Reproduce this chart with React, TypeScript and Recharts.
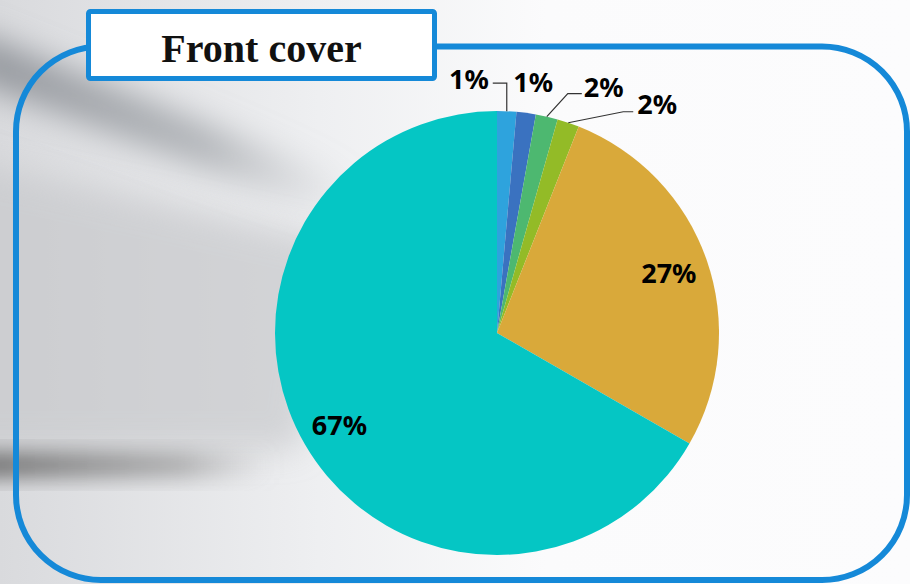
import React from 'react';
import { PieChart, Pie, Cell } from 'recharts';

const categories = ['Item 1', 'Item 2', 'Item 3', 'Item 4', 'Item 5', 'Item 6'];
const values = [1.4, 1.4, 1.6, 1.6, 27.3, 66.7];
const colors = ['#2ea3dd', '#3a72c0', '#4db870', '#93bb27', '#d9a93a', '#05c6c4'];

const data = categories.map((name, i) => ({ name, value: values[i] }));

const RADIAN = Math.PI / 180;
const labelFont = { fontFamily: '"Noto Sans", sans-serif', fontWeight: 700, fontSize: 27, fill: '#000' };

// leader line layout for the thin slices, relative to the point on the rim
const callouts: Record<number, { elbow?: [number, number]; end?: [number, number]; text: [number, number]; anchor: 'start' | 'middle' | 'end' }> = {
    0: { elbow: [0, -28], end: [-14, -28], text: [-18, -33], anchor: 'end' },
    1: { text: [7, -31], anchor: 'middle' },
    2: { elbow: [21, -23], end: [35, -23], text: [37, -30], anchor: 'start' },
    3: { elbow: [55, -11], end: [65, -11], text: [69, -19], anchor: 'start' },
};

const renderLabel = (props: any) => {
    const { cx, cy, midAngle, outerRadius, percent, index } = props;
    const text = `${Math.round(percent * 100)}%`;
    const cos = Math.cos(-midAngle * RADIAN);
    const sin = Math.sin(-midAngle * RADIAN);
    if (percent > 0.1) {
        const r = outerRadius * 0.82;
        return (
            <text x={cx + r * cos} y={cy + r * sin} textAnchor="middle" dominantBaseline="central" {...labelFont}>
                {text}
            </text>
        );
    }
    const ex = cx + outerRadius * cos;
    const ey = cy + outerRadius * sin;
    const c = callouts[index];
    return (
        <g>
            {c.elbow && c.end && (
                <polyline
                    points={`${ex},${ey} ${ex + c.elbow[0]},${ey + c.elbow[1]} ${ex + c.end[0]},${ey + c.end[1]}`}
                    fill="none"
                    stroke="#333"
                    strokeWidth={1.2}
                />
            )}
            <text x={ex + c.text[0]} y={ey + c.text[1]} textAnchor={c.anchor} dominantBaseline="central" {...labelFont}>
                {text}
            </text>
        </g>
    );
};

const Background = () => (
    <svg width={910} height={584} style={{ position: 'absolute', left: 0, top: 0 }}>
        <defs>
            <linearGradient id="base" x1="0" y1="0" x2="1" y2="0">
                <stop offset="0" stopColor="#d9dadd" />
                <stop offset="0.35" stopColor="#eeeff1" />
                <stop offset="0.6" stopColor="#fbfbfc" />
                <stop offset="1" stopColor="#fcfcfd" />
            </linearGradient>
            <linearGradient id="streak" x1="0" y1="0" x2="1" y2="0">
                <stop offset="0" stopColor="#8a8e94" stopOpacity={0.9} />
                <stop offset="0.6" stopColor="#9a9ea3" stopOpacity={0.7} />
                <stop offset="1" stopColor="#b8bbbf" stopOpacity={0} />
            </linearGradient>
            <linearGradient id="bar" x1="0" y1="0" x2="1" y2="0">
                <stop offset="0" stopColor="#666" stopOpacity={0.95} />
                <stop offset="0.7" stopColor="#8a8a8a" stopOpacity={0.6} />
                <stop offset="1" stopColor="#aaa" stopOpacity={0} />
            </linearGradient>
            <filter id="blur1" x="-50%" y="-50%" width="200%" height="200%">
                <feGaussianBlur stdDeviation="16" />
            </filter>
            <filter id="blur2" x="-50%" y="-50%" width="200%" height="200%">
                <feGaussianBlur stdDeviation="10" />
            </filter>
        </defs>
        <rect x={0} y={0} width={910} height={584} fill="url(#base)" />
        <polygon points="-40,160 -40,450 300,450 330,240" fill="#c8c9cc" filter="url(#blur1)" opacity={0.7} />
        <polygon points="-30,30 -30,80 330,215 360,185" fill="url(#streak)" filter="url(#blur1)" />
        <rect x={-30} y={452} width={300} height={26} fill="url(#bar)" filter="url(#blur2)" />
        <rect x={16} y={46.5} width={891} height={533.5} rx={85} ry={85} fill="none" stroke="#1589d8" strokeWidth={6} />
        <rect x={88.5} y={11.5} width={346} height={67} rx={2} fill="#ffffff" stroke="#1589d8" strokeWidth={5} />
        <text
            x={261.5}
            y={62}
            textAnchor="middle"
            fontFamily='"Liberation Serif", serif'
            fontWeight={700}
            fontSize={40}
            fill="#111"
        >
            Front cover
        </text>
    </svg>
);

export default function App() {
    return (
        <div style={{ position: 'absolute', left: 0, top: 0, width: 910, height: 584, overflow: 'hidden' }}>
            <Background />
            <div style={{ position: 'absolute', left: 0, top: 0 }}>
                <PieChart width={910} height={584} margin={{ top: 0, right: 0, bottom: 0, left: 0 }}>
                    <Pie
                        data={data}
                        dataKey="value"
                        nameKey="name"
                        cx={497}
                        cy={333}
                        outerRadius={222}
                        startAngle={90}
                        endAngle={-270}
                        stroke="none"
                        label={renderLabel}
                        labelLine={false}
                        isAnimationActive={false}
                    >
                        {data.map((d, i) => (
                            <Cell key={d.name} fill={colors[i]} />
                        ))}
                    </Pie>
                </PieChart>
            </div>
        </div>
    );
}
